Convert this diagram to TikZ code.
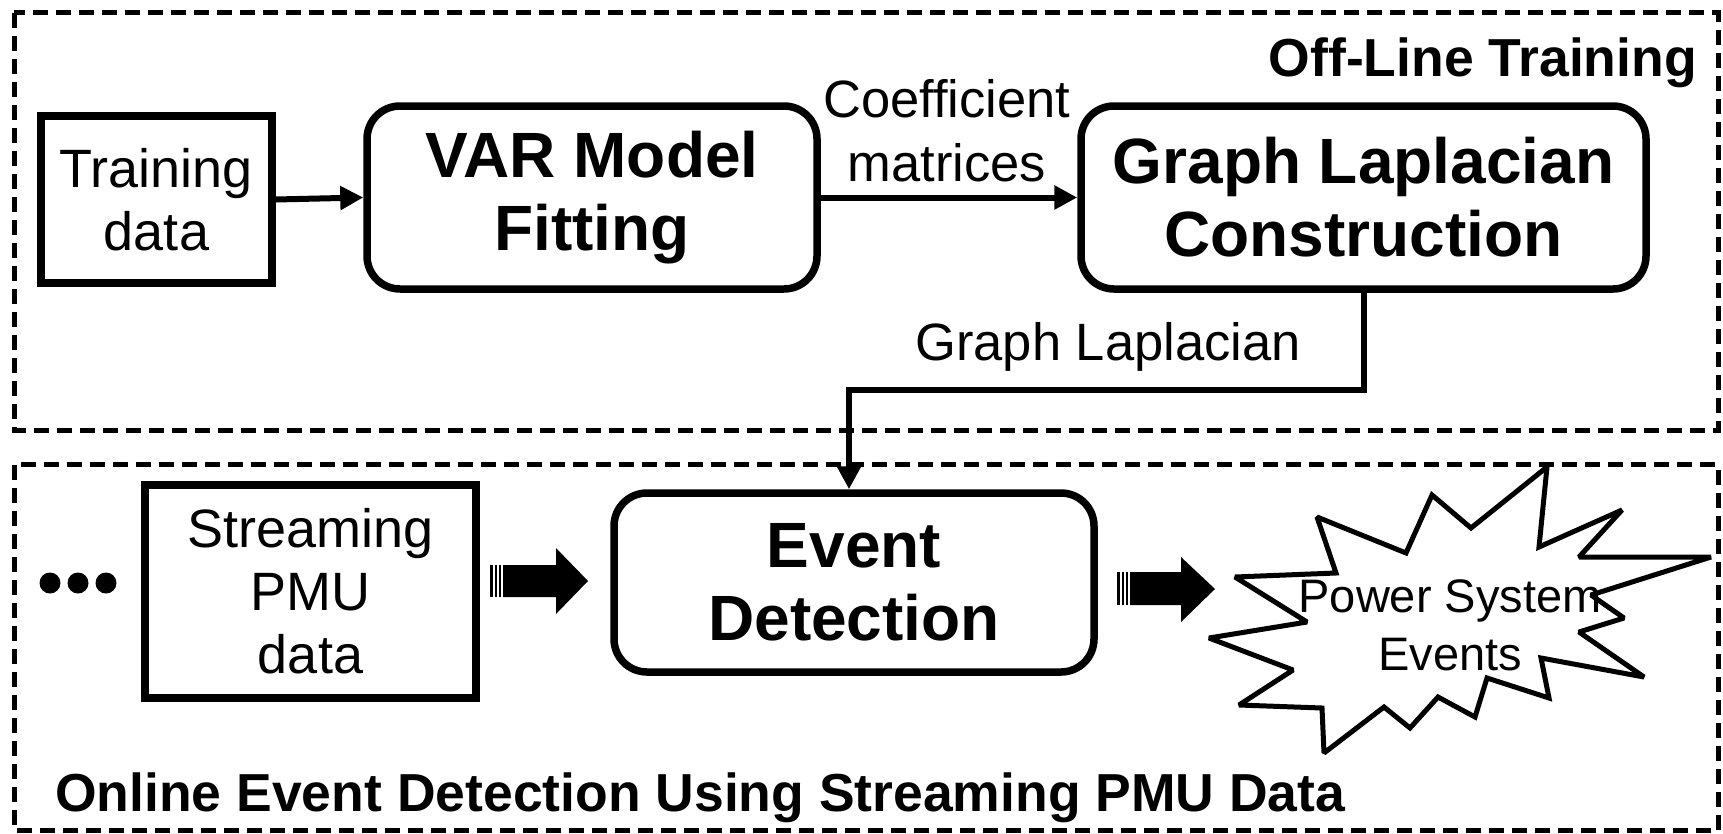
\documentclass[tikz,border=0pt]{standalone}
\usepackage{fontspec}
\setmainfont{Liberation Sans}
\usetikzlibrary{arrows.meta}
\begin{document}
\begin{tikzpicture}[x=1pt,y=-1pt,
  box/.style={draw, line width=7.5pt, align=center, inner sep=0pt},
  rbox/.style={box, rounded corners=33pt},
  conn/.style={line width=6pt, -{Triangle[length=23pt,width=23pt]}},
  frame/.style={draw, line width=5pt, dash pattern=on 15pt off 8pt},
  normtxt/.style={font=\fontsize{54}{63}\selectfont},
  boldtxt/.style={font=\fontsize{64}{73}\selectfont\bfseries},
  lab/.style={font=\fontsize{52.5}{64}\selectfont, align=center, inner sep=0pt},
  titletxt/.style={font=\fontsize{53.5}{60}\selectfont\bfseries, inner sep=0pt},
  blockarrow/.style={fill=black}
]
\useasboundingbox (0,0) rectangle (1723,833);

% frames
\draw[frame] (14,12.5) rectangle (1718,430);
\draw[frame] (14,464.5) rectangle (1718,830);

\node[titletxt, anchor=base east] (offlab) at (1697,76) {Off-Line Training};
\node[titletxt, anchor=base west] (onlab) at (55,811) {Online Event Detection Using Streaming PMU Data};

% top row
\node[box, normtxt, minimum width=231pt, minimum height=167pt] (train) at (156.5,199.5) {Training\\data};
\node[rbox, boldtxt, minimum width=450pt, minimum height=183pt] (var) at (592,197.5) {VAR Model\\Fitting};
\node[rbox, boldtxt, minimum width=565pt, minimum height=183pt] (glc) at (1363.5,197.5) {Graph Laplacian\\Construction};

\draw[conn] (train.east) -- (var.west);
\draw[conn] (var.east) -- (glc.west);
\node[lab] (coef) at (947,131) {Coefficient\\matrices};

% bottom row
\node[box, normtxt, minimum width=331pt, minimum height=213pt] (stream) at (310.5,591.5) {Streaming\\PMU\\data};
\node[rbox, boldtxt, minimum width=480pt, minimum height=179pt] (event) at (854,582.5) {Event\\Detection};

\coordinate (mid) at (849,390);
\draw[conn] (glc.south) -- (glc.south |- mid) -- (mid) -- (mid |- event.north);
\node[lab] (gllab) at (1108,347) {Graph Laplacian};

% dots
\fill (50,583) circle (10.5pt);
\fill (78,583) circle (10.5pt);
\fill (106,583) circle (10.5pt);

% block arrow 1
\fill (490,565) rectangle (493,597);
\fill (495,565) rectangle (497,597);
\fill (499,565) rectangle (501,597);
\fill[blockarrow] (503,565) -- (556,565) -- (556,548) -- (588,581) -- (556,614) -- (556,597) -- (503,597) -- cycle;

% block arrow 2
\fill (1117,572) rectangle (1120,605);
\fill (1122,572) rectangle (1124,605);
\fill (1126,572) rectangle (1128,605);
\fill[blockarrow] (1130,572) -- (1181,572) -- (1181,557) -- (1215,589) -- (1181,622) -- (1181,605) -- (1130,605) -- cycle;

% starburst
\draw[line width=5pt, fill=white, line join=miter, miter limit=2]
 (1547,467) -- (1539,547) -- (1622,510) -- (1579,557) -- (1711,557) --
 (1591,595) -- (1624,618) -- (1579,632) -- (1644,677) -- (1541,658) --
 (1549,698) -- (1487,678) -- (1475,717) -- (1438,697) -- (1410,728) --
 (1384,707) -- (1324,753) -- (1322,708) -- (1239,705) -- (1293,670) --
 (1209,638) -- (1307,622) -- (1235,577) -- (1336,573) -- (1317,517) --
 (1406,553) -- (1432,495) -- (1471,528) -- cycle;
\node[font=\fontsize{47}{58}\selectfont, align=center, inner sep=0pt] (power) at (1450,625) {Power System\\Events};
\end{tikzpicture}
\end{document}
